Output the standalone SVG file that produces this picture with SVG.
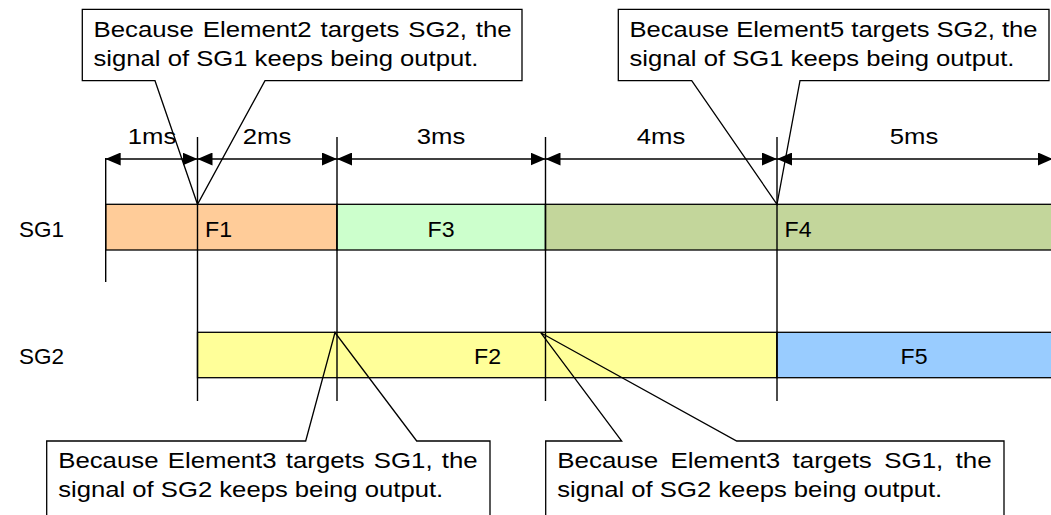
<svg xmlns="http://www.w3.org/2000/svg" width="1051" height="515" viewBox="0 0 1051 515">
  <style>
    text { font-family: "Liberation Sans", Arial, sans-serif; font-size: 22px; fill: #000; }
    .bar { stroke: #000; stroke-width: 1.3; }
    .vline { stroke: #000; stroke-width: 1.4; fill: none; }
    .dim { stroke: #000; stroke-width: 1.5; fill: none; marker-start: url(#arr); marker-end: url(#arr); }
    .callout { fill: none; stroke: #000; stroke-width: 1.3; stroke-linejoin: miter; }
    .mid { text-anchor: middle; }
  </style>
  <defs>
    <marker id="arr" viewBox="0 0 15 13" refX="15" refY="6.5" markerWidth="15" markerHeight="13" markerUnits="userSpaceOnUse" orient="auto-start-reverse">
      <path d="M0,0 L15,6.5 L0,13 Z" fill="#000"/>
    </marker>
  </defs>
  <rect x="0" y="0" width="1051" height="515" fill="#fff"/>

  <g id="label-SG1"><text x="19" y="237" textLength="45" lengthAdjust="spacingAndGlyphs">SG1</text></g>
  <g id="label-SG2"><text x="19" y="364" textLength="45" lengthAdjust="spacingAndGlyphs">SG2</text></g>

  <g id="F1"><rect class="bar" x="105.7" y="204.3" width="231.3" height="45.7" fill="#FFCC99"/>
    <text x="205" y="237" textLength="27" lengthAdjust="spacingAndGlyphs">F1</text></g>
  <g id="F3"><rect class="bar" x="337" y="204.3" width="208.5" height="45.7" fill="#CCFFCC"/>
    <text class="mid" x="441" y="237" textLength="27" lengthAdjust="spacingAndGlyphs">F3</text></g>
  <g id="F4"><rect class="bar" x="545.5" y="204.3" width="510" height="45.7" fill="#C3D69B"/>
    <text x="784.5" y="237" textLength="27" lengthAdjust="spacingAndGlyphs">F4</text></g>
  <g id="F2"><rect class="bar" x="197.5" y="332.3" width="579.5" height="45.4" fill="#FFFF99"/>
    <text class="mid" x="487.5" y="364" textLength="27" lengthAdjust="spacingAndGlyphs">F2</text></g>
  <g id="F5"><rect class="bar" x="777" y="332.3" width="278" height="45.4" fill="#99CCFF"/>
    <text class="mid" x="914" y="364" textLength="27" lengthAdjust="spacingAndGlyphs">F5</text></g>

  <g id="connectors">
    <line class="vline" x1="105.7" y1="158" x2="105.7" y2="282"/>
    <line class="vline" x1="197.5" y1="137" x2="197.5" y2="401"/>
    <line class="vline" x1="337" y1="137" x2="337" y2="401"/>
    <line class="vline" x1="545.5" y1="137" x2="545.5" y2="401"/>
    <line class="vline" x1="777" y1="137" x2="777" y2="401"/>
    <line class="dim" x1="105.7" y1="159" x2="197.5" y2="159"/>
    <line class="dim" x1="197.5" y1="159" x2="337" y2="159"/>
    <line class="dim" x1="337" y1="159" x2="545.5" y2="159"/>
    <line class="dim" x1="545.5" y1="159" x2="777" y2="159"/>
    <line class="dim" x1="777" y1="159" x2="1053" y2="159"/>
  </g>

  <g id="dim-labels">
    <text class="mid" x="152" y="143.5" textLength="48.5" lengthAdjust="spacingAndGlyphs">1ms</text>
    <text class="mid" x="267" y="143.5" textLength="48.5" lengthAdjust="spacingAndGlyphs">2ms</text>
    <text class="mid" x="441" y="143.5" textLength="48.5" lengthAdjust="spacingAndGlyphs">3ms</text>
    <text class="mid" x="661" y="143.5" textLength="48.5" lengthAdjust="spacingAndGlyphs">4ms</text>
    <text class="mid" x="914" y="143.5" textLength="48.5" lengthAdjust="spacingAndGlyphs">5ms</text>
  </g>

  <g id="callout-1">
    <rect x="82.3" y="9.3" width="439.7" height="71.4" fill="#fff"/>
    <path class="callout" d="M82.3,9.3 H522 V80.7 H265 L197.5,204.3 L155,80.7 H82.3 Z"/>
    <text x="93.5" y="36.5" textLength="418.2" lengthAdjust="spacingAndGlyphs" word-spacing="1.5">Because Element2 targets SG2, the</text>
    <text x="93.5" y="65.5" textLength="385" lengthAdjust="spacingAndGlyphs">signal of SG1 keeps being output.</text>
  </g>
  <g id="callout-2">
    <rect x="618.3" y="9.3" width="430.7" height="71.4" fill="#fff"/>
    <path class="callout" d="M618.3,9.3 H1049 V80.7 H800 L777,204.3 L691.7,80.7 H618.3 Z"/>
    <text x="629.5" y="36.5" textLength="408" lengthAdjust="spacingAndGlyphs">Because Element5 targets SG2, the</text>
    <text x="629.5" y="65.5" textLength="385" lengthAdjust="spacingAndGlyphs">signal of SG1 keeps being output.</text>
  </g>
  <g id="callout-3">
    <rect x="46.7" y="441" width="443.3" height="80" fill="#fff"/>
    <path class="callout" d="M46.7,530 V441 H305.7 L335,332.5 L416.7,441 H490 V530"/>
    <text x="58.2" y="468.3" textLength="419.5" lengthAdjust="spacingAndGlyphs" word-spacing="1.76">Because Element3 targets SG1, the</text>
    <text x="58.2" y="496.7" textLength="385" lengthAdjust="spacingAndGlyphs">signal of SG2 keeps being output.</text>
  </g>
  <g id="callout-4">
    <rect x="545.7" y="441" width="458.3" height="80" fill="#fff"/>
    <path class="callout" d="M545.7,530 V441 H621.7 L540.7,332.7 L736.7,441 H1004 V530"/>
    <text x="557.2" y="468.3" textLength="434.5" lengthAdjust="spacingAndGlyphs" word-spacing="4.3">Because Element3 targets SG1, the</text>
    <text x="557.2" y="496.7" textLength="385" lengthAdjust="spacingAndGlyphs">signal of SG2 keeps being output.</text>
  </g>
</svg>
